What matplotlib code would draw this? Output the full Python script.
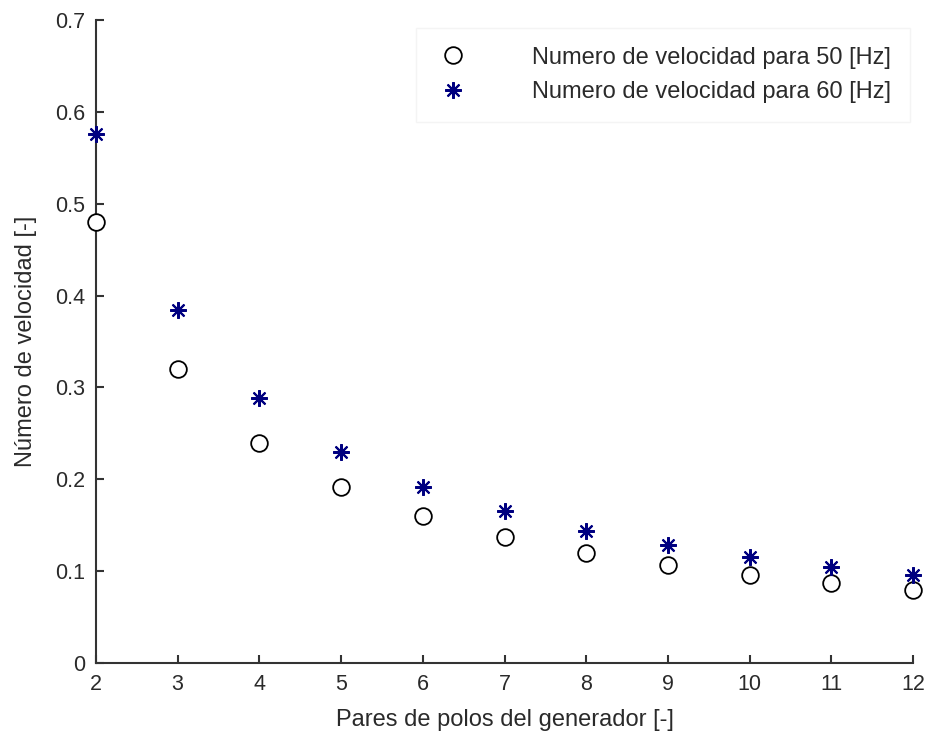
import matplotlib
matplotlib.use('Agg')
import matplotlib.pyplot as plt

plt.rcParams['font.family'] = ['Liberation Sans', 'DejaVu Sans']

# Pares de polos y numero de velocidad para cada frecuencia
pares_polos = [2, 3, 4, 5, 6, 7, 8, 9, 10, 11, 12]
vel_50hz = [0.480, 0.320, 0.240, 0.192, 0.160, 0.137, 0.120, 0.107, 0.096, 0.087, 0.080]
vel_60hz = [0.576, 0.384, 0.288, 0.230, 0.192, 0.165, 0.144, 0.128, 0.115, 0.105, 0.096]

fig = plt.figure(figsize=(9.28, 7.34), dpi=100)
ax = fig.add_axes([0.1034, 0.0967, 0.8805, 0.8761])

ax.plot(pares_polos, vel_50hz, linestyle='none', marker='o', markersize=12,
        markerfacecolor='white', markeredgecolor='black', markeredgewidth=1.3,
        label='Numero de velocidad para 50 [Hz]', clip_on=False, zorder=3)
ax.plot(pares_polos, vel_60hz, linestyle='none', marker=(8, 2, 0), markersize=12,
        color='#000080', markeredgewidth=1.5,
        label='Numero de velocidad para 60 [Hz]', clip_on=False, zorder=3)

ax.set_xlim(2, 12)
ax.set_ylim(0, 0.7)
ax.set_xticks(pares_polos)
ax.set_yticks([0, 0.1, 0.2, 0.3, 0.4, 0.5, 0.6, 0.7])
ax.set_yticklabels(['0', '0.1', '0.2', '0.3', '0.4', '0.5', '0.6', '0.7'])

for s in ['top', 'right']:
    ax.spines[s].set_visible(False)
for s in ['left', 'bottom']:
    ax.spines[s].set_linewidth(1.5)
    ax.spines[s].set_color('#333333')

ax.tick_params(direction='in', length=6, width=1.5, color='#333333',
               labelsize=15.5, labelcolor='#2a2a2a', pad=8)

ax.set_xlabel('Pares de polos del generador [-]', fontsize=17, color='#2a2a2a', labelpad=10)
ax.set_ylabel('Número de velocidad [-]', fontsize=17, color='#2a2a2a', labelpad=13)

leg = ax.legend(loc='upper right', bbox_to_anchor=(0.996, 0.988), fontsize=17,
                frameon=True, fancybox=False, edgecolor='#f2f2f2',
                handlelength=1.5, handletextpad=2.6, borderpad=0.8,
                labelspacing=0.53, borderaxespad=0.0)
leg.get_frame().set_linewidth(1.0)
for t in leg.get_texts():
    t.set_color('#2a2a2a')

fig.savefig('out.png', dpi=100)
